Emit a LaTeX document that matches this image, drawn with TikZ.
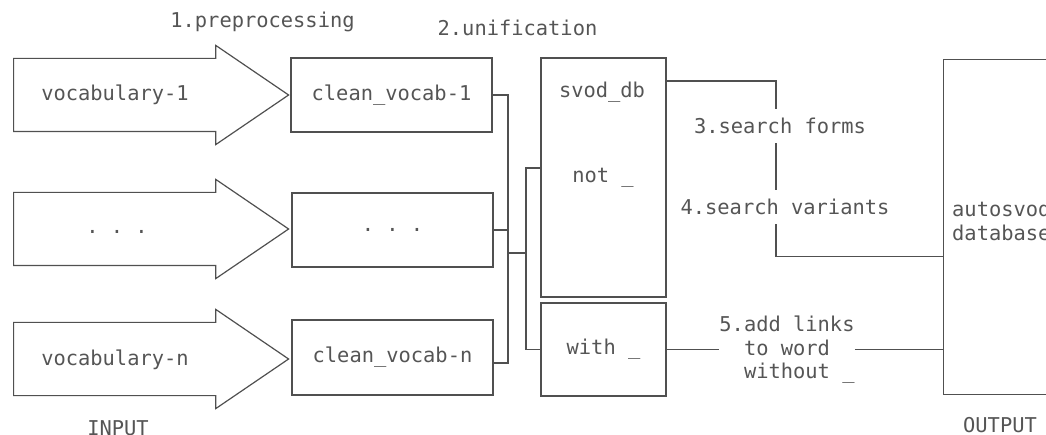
\documentclass[tikz,border=0pt]{standalone}
\usepackage{fontspec}
\setmonofont{DejaVu Sans Mono}
\usepackage{xcolor}
\usepackage{tikz}
\usetikzlibrary{positioning,shapes.arrows}
\definecolor{ink}{HTML}{505050}
\definecolor{txt}{HTML}{555555}

\begin{document}
\begin{tikzpicture}[
    x=1pt, y=-1pt,
    every node/.style={font=\ttfamily\fontsize{20.4}{23.5}\selectfont, text=txt},
    box/.style={draw=ink, line width=1.2pt, rectangle, inner sep=0pt},
    inarrow/.style={draw=ink, line width=1.2pt, single arrow, minimum height=275pt,
        inner xsep=0pt, inner ysep=36pt, single arrow head extend=13pt,
        single arrow tip angle=68.5, anchor=tail},
    lbl/.style={inner sep=0pt},
    gap/.style={fill=white, inner sep=0pt, minimum height=34pt},
    link/.style={draw=ink, line width=1.2pt}
]
    \useasboundingbox (0,0) rectangle (1046,435);
    \clip (0,0) rectangle (1046,435);

    % Inputs
    \node[inarrow] (in1) at (13,95) {};
    \node[inarrow] (in2) at (13,229) {};
    \node[inarrow] (in3) at (13,359) {};
    \node[lbl] (v1) at (115,95) {vocabulary-1};
    \node[lbl] (v2) at (117,232) {. . .};
    \node[lbl] (vn) at (115,360) {vocabulary-n};
    \node[lbl] (inp) at (118,428) {INPUT};

    % Preprocessed vocabularies
    \node[box, minimum width=201pt, minimum height=74pt] (cv1) at (391.5,95) {clean\_vocab-1};
    \node[box, minimum width=201pt, minimum height=74pt] (cv2) at (392.5,230) {. . .};
    \node[box, minimum width=201pt, minimum height=75pt] (cvn) at (392.5,357.5) {clean\_vocab-n};

    % Unification
    \node[box, minimum width=125pt, minimum height=239pt] (svod) at (603.5,177.5) {};
    \node[lbl] (svodt) at (602,92) {svod\_db};
    \node[lbl] (nott) at (603,178) {not \_};
    \node[box, minimum width=125pt, minimum height=93pt] (with) at (603.5,349.5) {with \_};

    % Output
    \node[box, minimum width=200pt, minimum height=335pt, anchor=north west] (db) at (943,59) {};
    \node[lbl, anchor=west, align=left] (dbt) at (952,221) {autosvod\\database};
    \node[lbl] (outp) at (1000,425) {OUTPUT};

    % Step labels
    \node[lbl] (s1) at (262.5,22) {1.preprocessing};
    \node[lbl] (s2) at (517.5,28) {2.unification};
    \node[gap] (s3) at (780,126) {3.search forms};
    \node[gap] (s4) at (785,207) {4.search variants};
    \node[gap, align=left] (s5) at (787,350) {5.add links\\\phantom{5.}to word\\\phantom{5.}without \_};

    % Lines
    \coordinate (j1) at (508,253);
    \coordinate (j2) at (526,253);
    \draw[link] (cv1.east) -| (j1);
    \draw[link] (cv2.east) -- (cv2.east -| j1);
    \draw[link] ([yshift=-5.5pt]cvn.east) -| (j1);
    \draw[link] (j1) -- (j2);
    \draw[link] ([yshift=9.5pt]svod.west) -| (j2);
    \draw[link] (with.west) -| (j2);
    \draw[link] ([yshift=96.5pt]svod.east) -| ([xshift=-4pt]s3.north);
    \draw[link] ([xshift=-4pt]s3.south) -- ([xshift=-9pt]s4.north);
    \draw[link] ([xshift=-9pt]s4.south) |- ([yshift=-29.5pt]db.west);
    \draw[link] (with.east) -- (with.east -| s5.west);
    \draw[link] (s5.east |- with.east) -- (with.east -| db.west);
\end{tikzpicture}
\end{document}
